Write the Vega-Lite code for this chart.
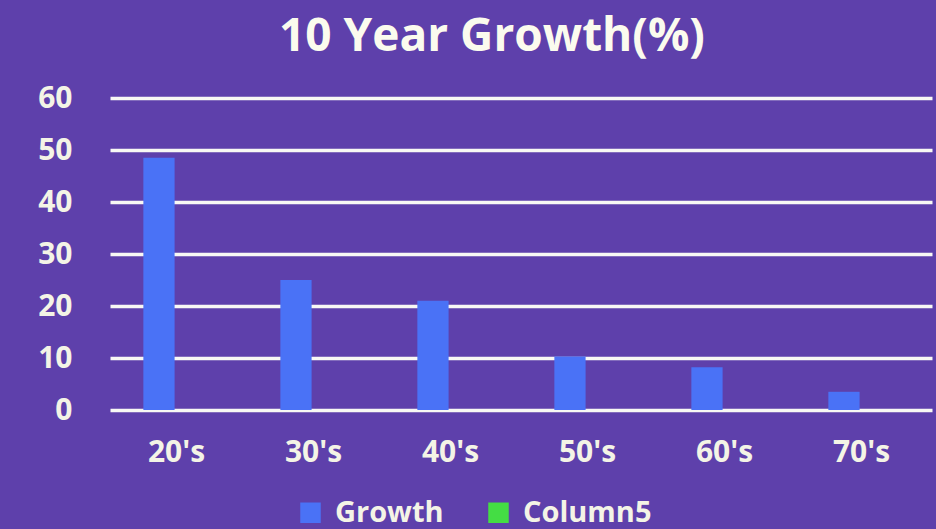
{
  "$schema": "https://vega.github.io/schema/vega-lite/v6.json",
  "width": 822,
  "height": 312,
  "autosize": "none",
  "padding": {"left": 110, "top": 98, "right": 4, "bottom": 119},
  "background": "#5e40ab",
  "title": {
    "text": "10 Year Growth(%)",
    "font": "Open Sans",
    "fontWeight": "bold",
    "fontSize": 46,
    "color": "#fbfbee",
    "anchor": "middle",
    "dx": -29,
    "offset": 22
  },
  "data": {
    "values": [
      {"decade": "20's", "series": "Growth", "value": 48.5},
      {"decade": "30's", "series": "Growth", "value": 25},
      {"decade": "40's", "series": "Growth", "value": 21},
      {"decade": "50's", "series": "Growth", "value": 10.3},
      {"decade": "60's", "series": "Growth", "value": 8.2},
      {"decade": "70's", "series": "Growth", "value": 3.5}
    ]
  },
  "mark": {"type": "bar"},
  "encoding": {
    "x": {
      "field": "decade",
      "type": "nominal",
      "sort": null,
      "scale": {"paddingInner": 0.43, "paddingOuter": 0.215},
      "axis": {
        "title": null,
        "labelAngle": 0,
        "domain": false,
        "ticks": false,
        "labelPadding": 27,
        "labelFontSize": 30,
        "labelFont": "Open Sans",
        "labelFontWeight": "bold",
        "labelColor": "#f4f4e6",
        "labelOffset": -2
      }
    },
    "xOffset": {
      "field": "series",
      "type": "nominal",
      "scale": {"domain": ["Growth", "Column5"], "paddingInner": 0.2, "paddingOuter": 0.1}
    },
    "y": {
      "field": "value",
      "type": "quantitative",
      "scale": {"domain": [0, 60]},
      "axis": {
        "title": null,
        "values": [0, 10, 20, 30, 40, 50, 60],
        "domain": false,
        "ticks": false,
        "grid": true,
        "gridColor": "#f8f8f4",
        "gridWidth": 3.5,
        "gridOpacity": 1,
        "labelPadding": 38,
        "labelFontSize": 30,
        "labelFont": "Open Sans",
        "labelFontWeight": "bold",
        "labelColor": "#f4f4e6"
      }
    },
    "color": {
      "field": "series",
      "type": "nominal",
      "scale": {"domain": ["Growth", "Column5"], "range": ["#4a72f6", "#44dd44"]},
      "legend": {
        "title": null,
        "orient": "none",
        "direction": "horizontal",
        "legendX": 186,
        "legendY": 400,
        "symbolType": "square",
        "symbolSize": 420,
        "symbolStrokeWidth": 0,
        "symbolOpacity": 1,
        "labelFontSize": 29,
        "labelFont": "Open Sans",
        "labelFontWeight": "bold",
        "labelColor": "#f4f4e6",
        "columnPadding": 40,
        "labelOffset": 10
      }
    }
  },
  "config": {
    "view": {"stroke": null}
  }
}
